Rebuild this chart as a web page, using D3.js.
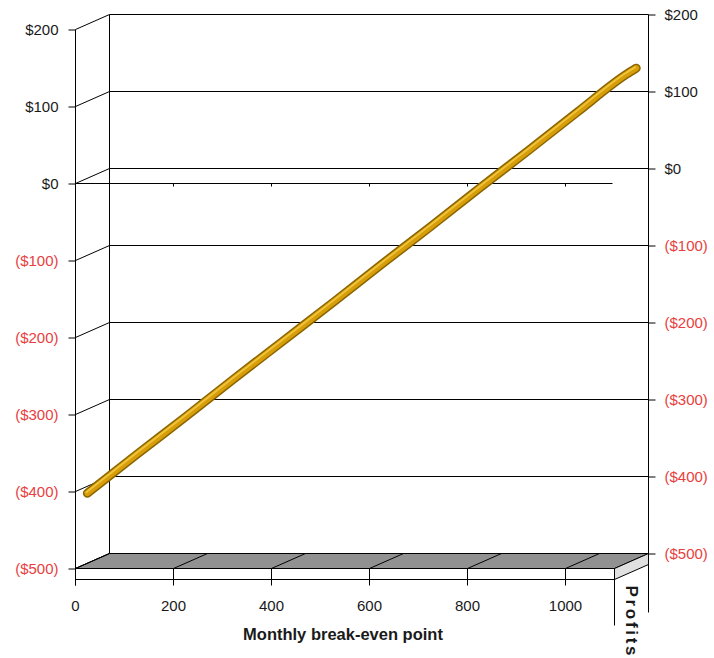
<!DOCTYPE html>
<html>
<head>
<meta charset="utf-8">
<script src="https://cdn.jsdelivr.net/npm/d3@7"></script>
<style>
  body { margin: 0; background: #fff; }
  svg text { font-family: "Liberation Sans", Arial, sans-serif; }
</style>
</head>
<body>
<svg id="chart" width="714" height="658"></svg>
<script>
const units = [0, 100, 200, 300, 400, 500, 600, 700, 800, 900, 1000, 1100, 1120];
const profits = [-409, -359, -310, -260, -211, -162, -112, -63, -13, 36, 86, 135, 143];
const profitTicks = [200, 100, 0, -100, -200, -300, -400, -500];
const unitTicks = [0, 200, 400, 600, 800, 1000];
const seriesName = "Profits";
const xTitle = "Monthly break-even point";

const svg = d3.select("#chart");

// front plane scales, depth goes up and to the right
const x = d3.scaleLinear().domain([0, 1100]).range([75, 614]);
const y = d3.scaleLinear().domain([-500, 200]).range([568, 29]);
const depth = { dx: 34, dy: -15 };
const lineDepth = 0.35;
const floorThick = 11;
const ink = "#000";

const fmt = v => v < 0 ? `($${-v})` : `$${v}`;
const labelColor = v => v < 0 ? "#e84040" : "#1a1a1a";

const g = svg.append("g").attr("transform", "translate(0.5,0.5)");

// back wall gridlines
g.selectAll(".grid")
    .data(profitTicks)
    .join("line")
    .attr("x1", x(0) + depth.dx)
    .attr("x2", x(1100) + depth.dx)
    .attr("y1", d => y(d) + depth.dy)
    .attr("y2", d => y(d) + depth.dy)
    .attr("stroke", ink);

// left wall gridlines
g.selectAll(".side")
    .data(profitTicks)
    .join("line")
    .attr("x1", x(0))
    .attr("x2", x(0) + depth.dx)
    .attr("y1", d => y(d))
    .attr("y2", d => y(d) + depth.dy)
    .attr("stroke", ink);

// back wall edge and right edge
g.append("line")
    .attr("x1", x(0) + depth.dx).attr("x2", x(0) + depth.dx)
    .attr("y1", y(200) + depth.dy).attr("y2", y(-500) + depth.dy)
    .attr("stroke", ink);
g.append("line")
    .attr("x1", x(1100) + depth.dx).attr("x2", x(1100) + depth.dx)
    .attr("y1", y(200) + depth.dy).attr("y2", y(-500) + depth.dy + 59)
    .attr("stroke", ink);

// floor
const fl = y(-500);
g.append("path")
    .attr("d", `M${x(0)},${fl}L${x(1100)},${fl}L${x(1100) + depth.dx},${fl + depth.dy}L${x(0) + depth.dx},${fl + depth.dy}Z`)
    .attr("fill", "#919191")
    .attr("stroke", ink);
g.append("path")
    .attr("d", `M${x(1100)},${fl}L${x(1100) + depth.dx},${fl + depth.dy}L${x(1100) + depth.dx},${fl + depth.dy + floorThick}L${x(1100)},${fl + floorThick}Z`)
    .attr("fill", "#e0e0e0")
    .attr("stroke", ink);
g.append("rect")
    .attr("x", x(0)).attr("y", fl)
    .attr("width", x(1100) - x(0)).attr("height", floorThick)
    .attr("fill", "#fff")
    .attr("stroke", ink);

// floor diagonals and category ticks
g.selectAll(".floorline")
    .data(unitTicks)
    .join("line")
    .attr("x1", d => x(d)).attr("x2", d => x(d) + depth.dx)
    .attr("y1", fl).attr("y2", fl + depth.dy)
    .attr("stroke", ink);
g.selectAll(".xtick")
    .data(unitTicks)
    .join("line")
    .attr("x1", d => x(d)).attr("x2", d => x(d))
    .attr("y1", fl).attr("y2", fl + 17)
    .attr("stroke", ink);
g.append("line")
    .attr("x1", x(1100)).attr("x2", x(1100))
    .attr("y1", fl).attr("y2", fl + 57)
    .attr("stroke", ink);

// front axis line at zero
g.append("line")
    .attr("x1", x(0)).attr("x2", x(1100) - 2)
    .attr("y1", y(0)).attr("y2", y(0))
    .attr("stroke", ink);
g.selectAll(".zerotick")
    .data(unitTicks.slice(1))
    .join("line")
    .attr("x1", d => x(d)).attr("x2", d => x(d))
    .attr("y1", y(0)).attr("y2", y(0) + 3)
    .attr("stroke", ink);

// left value axis
const left = g.append("g")
    .attr("transform", `translate(${x(0)},0)`)
    .call(d3.axisLeft(y).tickValues(profitTicks).tickFormat(fmt).tickSize(7).tickPadding(10));
left.select(".domain").remove();
left.append("line").attr("y1", y(200)).attr("y2", fl + 17).attr("stroke", ink);
left.selectAll(".tick line").attr("stroke", ink);
left.selectAll(".tick text")
    .attr("fill", d => labelColor(d))
    .attr("font-family", null)
    .attr("font-size", null)
    .style("font-size", "15px");

// right value axis on the back plane
const yBack = y.copy().range(y.range().map(r => r + depth.dy));
const right = g.append("g")
    .attr("transform", `translate(${x(1100) + depth.dx},0)`)
    .call(d3.axisRight(yBack).tickValues(profitTicks).tickFormat(fmt).tickSize(7).tickPadding(9));
right.select(".domain").remove();
right.selectAll(".tick line").attr("stroke", ink);
right.selectAll(".tick text")
    .attr("fill", d => labelColor(d))
    .style("font-size", "15px");
[left, right].forEach(a => a.attr("font-family", null).attr("font-size", null));

// category labels
g.selectAll(".xlabel")
    .data(unitTicks)
    .join("text")
    .attr("x", d => x(d))
    .attr("y", fl + 42)
    .attr("text-anchor", "middle")
    .attr("fill", "#1a1a1a")
    .style("font-size", "15px")
    .text(d => d);

// ribbon
const ox = depth.dx * lineDepth, oy = depth.dy * lineDepth;
const line = d3.line()
    .x(d => x(d[0]) + ox)
    .y(d => y(d[1]) + oy)
    .curve(d3.curveMonotoneX);
const pts = units.map((u, i) => [u, profits[i]]);
const ribbon = g.append("g");
ribbon.append("path").attr("d", line(pts))
    .attr("fill", "none").attr("stroke", "#8a6500")
    .attr("stroke-width", 9).attr("stroke-linecap", "round");
ribbon.append("path").attr("d", line(pts))
    .attr("fill", "none").attr("stroke", "#d79e0a")
    .attr("stroke-width", 6).attr("stroke-linecap", "round");
ribbon.append("path").attr("d", line(pts))
    .attr("transform", "translate(-1,-1)")
    .attr("fill", "none").attr("stroke", "#f0c43c")
    .attr("stroke-width", 1.8).attr("stroke-linecap", "round");

// titles
g.append("text")
    .attr("x", (x(0) + x(1100)) / 2 - 2)
    .attr("y", 639)
    .attr("text-anchor", "middle")
    .attr("fill", "#1a1a1a")
    .style("font-size", "16.5px")
    .style("font-weight", "bold")
    .text(xTitle);

g.append("text")
    .attr("transform", `translate(625,585) rotate(90)`)
    .attr("fill", "#1a1a1a")
    .style("font-size", "17px")
    .style("font-weight", "bold")
    .attr("textLength", 70)
    .attr("lengthAdjust", "spacing")
    .text(seriesName);
</script>
</body>
</html>
